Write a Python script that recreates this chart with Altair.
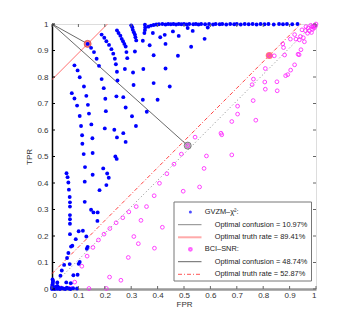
import altair as alt
import pandas as pd

# ---------------- data ----------------
gvzm_fpr = [
    0.000, 0.000, 0.001, 0.002, 0.003, 0.004, 0.002, 0.006, 0.010, 0.012, 0.015, 0.020, 0.020, 0.025,
    0.030, 0.036, 0.043, 0.050, 0.056, 0.063, 0.070, 0.080, 0.095, 0.054, 0.071, 0.020,
    0.032, 0.037, 0.046, 0.057, 0.062, 0.067, 0.081, 0.097, 0.101, 0.105, 0.072, 0.077, 0.090, 0.101,
    0.117, 0.130, 0.132, 0.135, 0.068, 0.068, 0.068, 0.068, 0.068, 0.068, 0.067, 0.064, 0.062, 0.059,
    0.055, 0.124, 0.148, 0.157, 0.173, 0.172, 0.180, 0.206, 0.215, 0.209, 0.194, 0.124, 0.154, 0.125,
    0.120, 0.154, 0.240, 0.245,
    0.115, 0.114, 0.110, 0.105, 0.095, 0.085, 0.075, 0.153, 0.149, 0.140, 0.136, 0.130, 0.121, 0.105,
    0.097, 0.085, 0.200, 0.204, 0.202, 0.196, 0.188, 0.236, 0.246, 0.270, 0.279, 0.279, 0.244, 0.270,
    0.303, 0.318, 0.359, 0.344, 0.400, 0.309, 0.385, 0.446, 0.307, 0.276, 0.346, 0.430,
    0.135, 0.148, 0.159, 0.169, 0.178,
    0.188, 0.198, 0.206, 0.216, 0.225, 0.232, 0.238, 0.242, 0.246, 0.248,
    0.246, 0.252, 0.259, 0.264, 0.269, 0.274, 0.279, 0.282, 0.285,
    0.300, 0.304, 0.306, 0.310, 0.314, 0.316, 0.319,
    0.352, 0.353, 0.352, 0.350,
    0.344, 0.314, 0.370, 0.385, 0.382, 0.427, 0.430, 0.458, 0.477, 0.480, 0.514, 0.533, 0.590, 0.578,
    0.527, 0.410,
    0.365, 0.375, 0.385, 0.395, 0.405, 0.418, 0.430, 0.440, 0.450, 0.460, 0.470, 0.480, 0.490, 0.500,
    0.510, 0.520, 0.535, 0.545, 0.555, 0.565, 0.580, 0.595, 0.610, 0.620, 0.635, 0.645, 0.660, 0.675,
    0.690, 0.700, 0.715, 0.730, 0.745, 0.760, 0.775, 0.790, 0.805, 0.820, 0.840, 0.860, 0.875, 0.890,
    0.910, 0.930,
]
gvzm_tpr = [
    0.000, 0.006, 0.012, 0.018, 0.024, 0.030, 0.036, 0.003, 0.000, 0.008, 0.004, 0.001, 0.012, 0.006,
    0.000, 0.004, 0.002, 0.000, 0.005, 0.002, 0.000, 0.003, 0.002, 0.025, 0.022, 0.025,
    0.050, 0.070, 0.091, 0.117, 0.136, 0.094, 0.052, 0.054, 0.095, 0.102, 0.160, 0.163, 0.188, 0.218,
    0.220, 0.198, 0.152, 0.159, 0.207, 0.246, 0.263, 0.279, 0.311, 0.327, 0.347, 0.375, 0.402, 0.422,
    0.437, 0.329, 0.299, 0.289, 0.289, 0.257, 0.373, 0.392, 0.420, 0.436, 0.455, 0.405, 0.431, 0.460,
    0.509, 0.513, 0.500, 0.491,
    0.548, 0.580, 0.615, 0.653, 0.692, 0.719, 0.739, 0.569, 0.621, 0.662, 0.695, 0.729, 0.764, 0.799,
    0.825, 0.844, 0.606, 0.671, 0.718, 0.758, 0.792, 0.601, 0.572, 0.588, 0.555, 0.685, 0.727, 0.724,
    0.652, 0.615, 0.669, 0.714, 0.714, 0.770, 0.777, 0.764, 0.817, 0.830, 0.830, 0.832,
    0.925, 0.910, 0.894, 0.869, 0.842,
    0.960, 0.948, 0.935, 0.921, 0.905, 0.888, 0.869, 0.848, 0.820, 0.787,
    0.976, 0.966, 0.956, 0.944, 0.935, 0.925, 0.915, 0.894, 0.871,
    0.995, 0.988, 0.978, 0.969, 0.960, 0.950, 0.938,
    0.997, 0.987, 0.977, 0.966,
    0.937, 0.896, 0.920, 0.882, 0.966, 0.959, 0.925, 0.972, 0.880, 0.955, 0.985, 0.974, 0.987, 0.944,
    0.914, 0.950,
    0.990, 0.994, 0.996, 0.998, 0.999, 1.000, 0.998, 1.000, 0.999, 1.000, 0.998, 1.000, 0.999, 1.000,
    0.998, 1.000, 0.999, 1.000, 0.998, 1.000, 0.999, 1.000, 0.998, 1.000, 0.999, 1.000, 0.998, 1.000,
    0.999, 1.000, 0.998, 1.000, 0.999, 1.000, 0.998, 1.000, 0.999, 1.000, 0.998, 1.000, 0.999, 1.000,
    0.999, 1.000,
]

bci_fpr = [
    0.035, 0.070, 0.140, 0.206, 0.086,
    0.113, 0.133, 0.155, 0.176, 0.197, 0.219, 0.243, 0.268, 0.291, 0.319, 0.358, 0.387, 0.407, 0.435,
    0.462, 0.490, 0.514, 0.542,
    0.218, 0.261, 0.289, 0.310, 0.327, 0.337, 0.388, 0.418, 0.497, 0.559, 0.576, 0.585, 0.681, 0.640,
    0.643, 0.681, 0.772, 0.703, 0.703, 0.762, 0.758, 0.763, 0.806, 0.808, 0.808, 0.852, 0.853, 0.823,
    0.842, 0.874, 0.877, 0.881, 0.885, 0.893, 0.904, 0.919, 0.932, 0.936, 0.943, 0.903, 0.919, 0.924,
    0.937, 0.941, 0.947, 0.952, 0.956, 0.962, 0.968, 0.975, 0.983, 0.987, 0.990, 0.993, 0.995, 1.000,
    0.998, 0.970, 0.980, 0.985, 0.960,
]
bci_tpr = [
    0.004, 0.004, 0.002, 0.002, 0.026,
    0.086, 0.124, 0.157, 0.185, 0.207, 0.228, 0.250, 0.269, 0.291, 0.311, 0.311, 0.352, 0.399, 0.435,
    0.471, 0.509, 0.541, 0.573,
    0.045, 0.033, 0.119, 0.198, 0.171, 0.259, 0.154, 0.233, 0.369, 0.385, 0.455, 0.502, 0.506, 0.588,
    0.582, 0.632, 0.637, 0.690, 0.660, 0.711, 0.771, 0.792, 0.781, 0.754, 0.832, 0.782, 0.748, 0.881,
    0.880, 0.925, 0.911, 0.883, 0.805, 0.809, 0.826, 0.846, 0.886, 0.884, 0.903, 0.943, 0.960, 0.943,
    0.940, 0.953, 0.978, 0.948, 0.933, 0.990, 0.965, 0.974, 0.968, 0.980, 0.990, 0.985, 0.995, 1.000,
    0.992, 0.985, 0.995, 0.990, 0.975,
]

# optimum points (FPR, TPR)
gvzm_opt = (0.135, 0.925)
bci_conf_opt = (0.514, 0.541)
bci_truth_opt = (0.823, 0.881)

# iso lines
gvzm_truth_line = ([0.0, 0.21], [0.79, 1.0])
bci_truth_line = ([0.0, 0.942], [0.058, 1.0])
bci_conf_line = ([0.0, 0.99], [0.01, 1.0])

tick_vals = [0, 0.1, 0.2, 0.3, 0.4, 0.5, 0.6, 0.7, 0.8, 0.9, 1]
legend_labels = [
    "GVZM–χ²:",
    "Optimal confusion = 10.97%",
    "Optimal truth rate = 89.41%",
    "BCI–SNR:",
    "Optimal confusion = 48.74%",
    "Optimal truth rate = 52.87%",
]

# ---------------- chart ----------------
W, H = 264, 265
FONT = "Liberation Sans"
xs = alt.Scale(domain=[0, 1], nice=False, zero=False)
ys = alt.Scale(domain=[0, 1], nice=False, zero=False)
lab_expr = "datum.value == 0 ? '0' : datum.value == 1 ? '1' : format(datum.value, '.1f')"

x_axis = alt.Axis(values=tick_vals, labelExpr=lab_expr, ticks=False, grid=False,
                  domainColor="#999", domainWidth=2.5, labelFont=FONT, labelFontSize=8,
                  labelColor="#333", labelPadding=2, title="FPR", titleFont=FONT,
                  titleFontSize=8, titleFontWeight="normal", titleColor="#333", titlePadding=1)
y_axis = alt.Axis(values=tick_vals, labelExpr=lab_expr, ticks=False, grid=False,
                  domainColor="#000", domainWidth=1.5, labelFont=FONT, labelFontSize=8,
                  labelColor="#333", labelPadding=4, title="TPR", titleFont=FONT,
                  titleFontSize=8, titleFontWeight="normal", titleColor="#333", titlePadding=3)


def xy_df(f, t):
    return pd.DataFrame({"FPR": f, "TPR": t})


def enc():
    return dict(x=alt.X("FPR:Q", scale=xs, axis=x_axis), y=alt.Y("TPR:Q", scale=ys, axis=y_axis))


gv = xy_df(gvzm_fpr, gvzm_tpr)
bc = xy_df(bci_fpr, bci_tpr)

dotted = alt.Chart(xy_df(*bci_conf_line)).mark_line(
    color="#888", strokeWidth=1, strokeDash=[1, 2.5]).encode(**enc())
dashdot = alt.Chart(xy_df(*bci_truth_line)).mark_line(
    color="#ff4444", strokeWidth=1, strokeDash=[4, 2, 1, 2]).encode(**enc())
red_solid = alt.Chart(xy_df(*gvzm_truth_line)).mark_line(
    color="#ff7070", strokeWidth=1).encode(**enc())
seg1 = alt.Chart(xy_df([0, gvzm_opt[0]], [1, gvzm_opt[1]])).mark_line(
    color="#444", strokeWidth=0.8).encode(**enc())
seg2 = alt.Chart(xy_df([0, bci_conf_opt[0]], [1, bci_conf_opt[1]])).mark_line(
    color="#444", strokeWidth=0.8).encode(**enc())

hl_red = alt.Chart(xy_df([gvzm_opt[0], bci_truth_opt[0]], [gvzm_opt[1], bci_truth_opt[1]])).mark_point(
    shape="circle", filled=True, color="#ff6b6b", opacity=0.9, size=50).encode(**enc())
hl_red_ring = alt.Chart(xy_df([gvzm_opt[0]], [gvzm_opt[1]])).mark_point(
    shape="circle", filled=False, color="#c03030", strokeWidth=0.8, size=50).encode(**enc())
hl_grey = alt.Chart(xy_df([bci_conf_opt[0]], [bci_conf_opt[1]])).mark_point(
    shape="circle", filled=True, color="#aaaaaa", size=50).encode(**enc())
hl_grey_ring = alt.Chart(xy_df([bci_conf_opt[0]], [bci_conf_opt[1]])).mark_point(
    shape="circle", filled=False, color="#444", strokeWidth=0.8, size=50).encode(**enc())

mag = alt.Chart(bc).mark_point(shape="circle", filled=False, color="#ff22ff",
                               strokeWidth=1, size=14, opacity=0.85).encode(**enc())
blue = alt.Chart(gv).mark_point(shape="circle", filled=True, color="#0000ff",
                                size=15, opacity=1).encode(**enc())

tk = pd.DataFrame({"FPR": tick_vals, "TPR": tick_vals})
tick_layers = [
    alt.Chart(tk).mark_rule(color="#000", strokeWidth=1).encode(
        y=alt.Y("TPR:Q", scale=ys, axis=y_axis), x=alt.value(0), x2=alt.value(3)),
    alt.Chart(tk).mark_rule(color="#666", strokeWidth=1).encode(
        y=alt.Y("TPR:Q", scale=ys, axis=y_axis), x=alt.value(W - 3), x2=alt.value(W)),
    alt.Chart(tk).mark_rule(color="#666", strokeWidth=1).encode(
        x=alt.X("FPR:Q", scale=xs, axis=x_axis), y=alt.value(H - 3), y2=alt.value(H)),
    alt.Chart(tk).mark_rule(color="#666", strokeWidth=1).encode(
        x=alt.X("FPR:Q", scale=xs, axis=x_axis), y=alt.value(0), y2=alt.value(3)),
]

# ---------------- legend ----------------
one = pd.DataFrame({"k": [0]})
LX0, LX1, LY0, LY1 = 122, 259.5, 178, 257
rows_y = [188, 200.7, 213.3, 225.3, 237.7, 250.3]
leg = [
    alt.Chart(one).mark_rect(fill="white", stroke="#777", strokeWidth=1).encode(
        x=alt.value(LX0), x2=alt.value(LX1), y=alt.value(LY0), y2=alt.value(LY1)),
    alt.Chart(one).mark_point(shape="circle", filled=True, color="#0000ff", size=9).encode(
        x=alt.value(138.4), y=alt.value(rows_y[0])),
    alt.Chart(one).mark_rule(color="#888", strokeWidth=1).encode(
        x=alt.value(126), x2=alt.value(149.5), y=alt.value(rows_y[1])),
    alt.Chart(one).mark_rule(color="#ffaaaa", strokeWidth=2).encode(
        x=alt.value(126), x2=alt.value(149.5), y=alt.value(rows_y[2])),
    alt.Chart(one).mark_point(shape="circle", filled=False, color="#ff22ff", size=8).encode(
        x=alt.value(138.4), y=alt.value(rows_y[3])),
    alt.Chart(one).mark_rule(color="#666", strokeWidth=1).encode(
        x=alt.value(126), x2=alt.value(149.5), y=alt.value(rows_y[4])),
    alt.Chart(one).mark_rule(color="#ff5555", strokeWidth=1, strokeDash=[4, 2, 1, 2]).encode(
        x=alt.value(126), x2=alt.value(149.5), y=alt.value(rows_y[5])),
]
for i, lab in enumerate(legend_labels):
    lx = 152.7 if i in (0, 3) else 162.7
    leg.append(
        alt.Chart(pd.DataFrame({"t": [lab]})).mark_text(
            font=FONT, fontSize=7.4, color="#222", align="left", baseline="middle").encode(
            text="t:N", x=alt.value(lx), y=alt.value(rows_y[i]))
    )

chart = alt.layer(
    dotted, dashdot, red_solid, seg1, seg2, hl_red, hl_red_ring, hl_grey, hl_grey_ring,
    mag, blue, *tick_layers, *leg
).properties(
    width=W, height=H, autosize="none",
    padding={"left": 44, "top": 16, "right": 33, "bottom": 28},
).configure_view(stroke="#999", strokeWidth=2).configure(background="white")

chart.save("out.html", embed_options={"renderer": "svg", "actions": False})
